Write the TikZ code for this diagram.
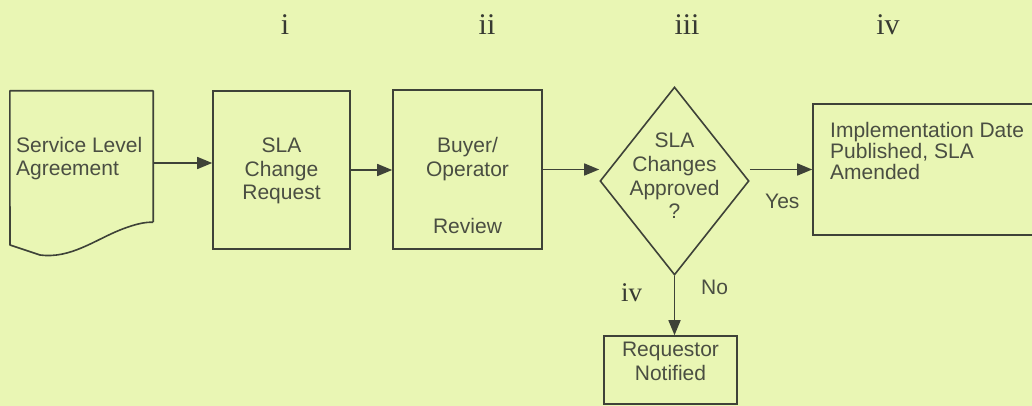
\documentclass[tikz,border=0pt]{standalone}
\usepackage{fontspec}
\setmainfont{Liberation Sans}
\newfontfamily\serifnum{Liberation Serif}
\usetikzlibrary{shapes.geometric,arrows.meta}
\definecolor{bgc}{RGB}{233,246,180}
\definecolor{linec}{RGB}{62,66,56}
\definecolor{textc}{RGB}{74,78,66}
\definecolor{numc}{RGB}{55,58,50}
\begin{document}
\begin{tikzpicture}[x=1pt,y=-1pt,
  box/.style={draw=linec, line width=1.6pt, inner sep=0pt, rectangle},
  lbl/.style={text=textc, font=\fontsize{21}{23.5}\selectfont, inner sep=0pt, align=center},
  num/.style={text=numc, font=\serifnum\fontsize{30}{30}\selectfont, inner sep=0pt},
  arr/.style={draw=linec, line width=1.6pt, -{Triangle[length=15pt,width=12pt]}}]
\useasboundingbox (0,0) rectangle (1032,406);
\clip (0,0) rectangle (1032,406);
\fill[bgc] (0,0) rectangle (1032,406);
% roman numerals
\node[num, anchor=base] (n1) at (285,35) {i};
\node[num, anchor=base] (n2) at (487,35) {ii};
\node[num, anchor=base] (n3) at (687,35) {iii};
\node[num, anchor=base] (n4) at (888,35) {iv};
% document shape
\node[inner sep=0pt, minimum width=143pt, minimum height=131pt] (doc) at (81.5,156.5) {};
\draw[draw=linec, line width=1.6pt, line join=round]
  (doc.south east) -- (doc.north east) -- (doc.north west) -- (10,245) -- (40,255)
  .. controls (70,259) and (95,240) .. (120,230)
  .. controls (135,224) and (145,222) .. (doc.south east);
\node[lbl, align=left, anchor=north west, font=\fontsize{21}{23}\selectfont] (tdoc) at (16,137) {Service Level\\Agreement};
% boxes
\node[box, minimum width=137pt, minimum height=158pt] (b1) at (281.5,170) {};
\node[lbl, anchor=north, font=\fontsize{21}{23.5}\selectfont] (tb1) at (281.5,138) {SLA\\Change\\Request};
\node[box, minimum width=149pt, minimum height=159pt] (b2) at (467.5,169.5) {};
\node[lbl, anchor=north, font=\fontsize{21}{24}\selectfont] (tb2) at (467.5,137) {Buyer/\\Operator\\[33pt]Review};
\node[draw=linec, line width=1.6pt, diamond, inner sep=0pt, minimum width=149pt, minimum height=188pt] (dia) at (674.5,181) {};
\node[lbl, anchor=north, font=\fontsize{21}{23.7}\selectfont] (tdia) at (674.5,133) {SLA\\Changes\\Approved\\?};
\node[box, minimum width=232pt, minimum height=131pt] (b3) at (929,169.5) {};
\node[lbl, align=left, anchor=north west, font=\fontsize{21}{21}\selectfont] (tb3) at (830,122) {Implementation Date\\Published, SLA\\Amended};
\node[box, minimum width=133pt, minimum height=68pt] (b4) at (670.5,370) {};
\node[lbl, anchor=north, font=\fontsize{21}{24}\selectfont] (tb4) at (670.5,342) {Requestor\\Notified};
% connectors
\draw[arr] ([yshift=-6.5pt]doc.east) -- ([yshift=-6.5pt]doc.east -| b1.west);
\draw[arr] (b1.east) -- (b1.east -| b2.west);
\draw[arr] (b2.east) -- (b2.east -| dia.west);
\draw[arr] (b3.west -| dia.east) -- (b3.west);
\draw[arr] (dia.south) -- (dia.south |- b4.north);
% branch labels
\node[lbl, anchor=base west] (yes) at (765,208) {Yes};
\node[lbl, anchor=base west] (no) at (701,294) {No};
\node[num, anchor=base west, font=\serifnum\fontsize{27}{27}\selectfont] (n5) at (621,301) {iv};
\end{tikzpicture}
\end{document}
